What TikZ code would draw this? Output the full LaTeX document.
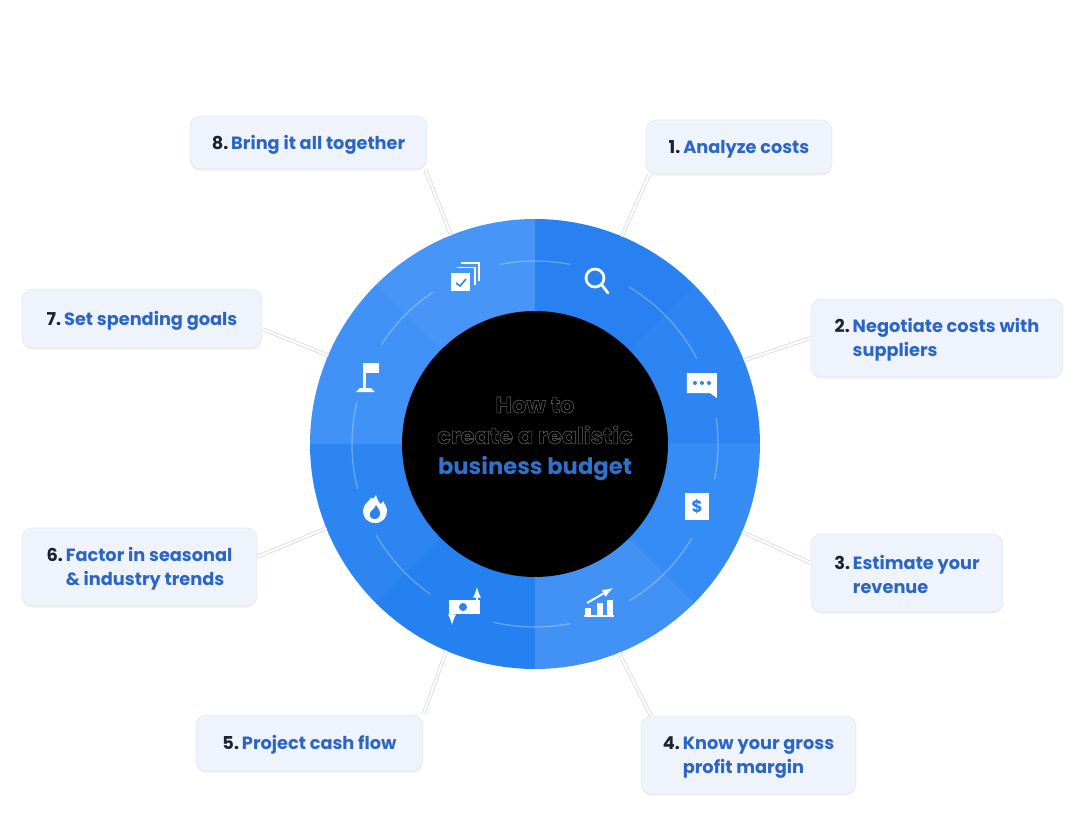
\documentclass[tikz,border=0pt]{standalone}
\usepackage{fontspec}
\setmainfont{Poppins}
\usepackage{tikz}
\usetikzlibrary{shadows,arrows}

\definecolor{numink}{HTML}{1C2233}
\definecolor{stepink}{HTML}{2B66C4}
\definecolor{boxfill}{HTML}{EFF3FB}
\definecolor{boxedge}{HTML}{E6ECF5}
\definecolor{linkgray}{HTML}{D5DAE2}
\definecolor{iconblue}{HTML}{2F82EE}
\definecolor{hubblue}{HTML}{2F72CC}
\newcommand{\steptext}[2]{\rule{0pt}{11.8pt}\textcolor{numink}{#1.}\,\textcolor{stepink}{\begin{tabular}[t]{@{}l@{}}#2\end{tabular}}}
\newcommand{\hollowtext}[1]{\special{pdf:code 1 Tr .3 w .4 G}#1\special{pdf:code 0 Tr 0 G}}

\begin{document}
\begin{tikzpicture}[x=0.02cm,y=0.02cm,>=latex]
	\tikzstyle{stepbox}=[rectangle,rounded corners=6pt,fill=boxfill,draw=boxedge,line width=.5pt,align=left,inner sep=0pt,
		font=\fontsize{10.1}{13.65}\selectfont\bfseries,drop shadow={shadow xshift=0pt,shadow yshift=-.8pt,fill=black!25,opacity=.3}]
	\tikzstyle{link}=[draw=linkgray,line width=.45pt,double=white,double distance=1.2pt]
	\tikzstyle{guide}=[draw=white,opacity=.3,line width=.7pt,line cap=round]
	\tikzstyle{icon}=[fill=white,draw=none]
	\tikzstyle{iconline}=[draw=white,line width=1.6pt]
	\useasboundingbox (-535,-385) rectangle (545,444);
	%Wheel
	\foreach \from/\shade in {0/2C85F3,45/2980F1,90/4796F7,135/4092F6,180/2D85F2,225/2681F0,270/4292F5,315/368CF5}{
		\definecolor{wedge}{HTML}{\shade}
		\fill[wedge] (0,0) -- (\from:225) arc (\from:\from+45.3:225) -- cycle;
	}
	\node[circle,fill=black,inner sep=0pt,minimum size=5.32cm](hub) at (0,0){};
	\foreach \from/\to in {79/101,28/59,-11/8,-59/-31,-103/-79,-150/-125,167/194,124/147}{
		\draw[guide] (\from:183) arc (\from:\to:183);
	}
	\node[align=center,font=\fontsize{12.9}{17.6}\selectfont\bfseries,text=black](title) at (0,5){\hollowtext{How to}\\\hollowtext{create a realistic}\\\textcolor{hubblue}{business budget}};
	%Rim points
	\coordinate (rim1) at (67.3:225);
	\coordinate (rim2) at (21.8:225);
	\coordinate (rim3) at (-23:225);
	\coordinate (rim4) at (-68.1:225);
	\coordinate (rim5) at (-113.2:225);
	\coordinate (rim6) at (-158:225);
	\coordinate (rim7) at (156.8:225);
	\coordinate (rim8) at (111.9:225);
	%Right side
	\node[stepbox,minimum width=3.72cm,minimum height=1.08cm](box1) at (204,297){\steptext{1}{Analyze costs}};
	\node[stepbox,minimum width=5.04cm,minimum height=1.56cm](box2) at (402,106){\steptext{2}{Negotiate costs with\\suppliers}};
	\node[stepbox,minimum width=3.84cm,minimum height=1.56cm](box3) at (372,-129){\rule{0pt}{14pt}\steptext{3}{Estimate your\\revenue}};
	\node[stepbox,minimum width=4.30cm,minimum height=1.56cm](box4) at (213.5,-311){\steptext{4}{Know your gross\\profit margin}};
	%Left side
	\node[stepbox,minimum width=4.54cm,minimum height=1.12cm](box5) at (-225.5,-299){\steptext{5}{Project cash flow}};
	\node[stepbox,minimum width=4.70cm,minimum height=1.56cm](box6) at (-395.5,-123){\steptext{6}{Factor in seasonal\\\& industry trends}};
	\node[stepbox,minimum width=4.80cm,minimum height=1.18cm](box7) at (-393,125.5){\steptext{7}{Set spending goals}};
	\node[stepbox,minimum width=4.74cm,minimum height=1.06cm](box8) at (-226.5,301.5){\steptext{8}{Bring it all together}};
	%Links
	\draw[link] (rim1) -- (box1.197);
	\draw[link] (rim2) -- (box2.west);
	\draw[link] (rim3) -- (box3.174);
	\draw[link] (rim4) -- (box4.158);
	\draw[link] (rim5) -- (box5.14);
	\draw[link] (rim6) -- (box6.5);
	\draw[link] (rim7) -- (box7.-5);
	\draw[link] (rim8) -- (box8.-13);
	%Search
	\draw[iconline] (60,166) circle (9);
	\draw[iconline,line cap=round] (66.5,159.5) -- (73,151);
	%Chat
	\fill[icon] (152,71) -- (182,71) -- (182,46) -- (175,51) -- (152,51) -- cycle;
	\foreach \dotx in {160,167,174}{
		\fill[iconblue] (\dotx,61) circle (2);
	}
	%Dollar
	\fill[icon] (150,-49) rectangle (174,-76);
	\node[text=iconblue,font=\fontsize{9.5}{10}\selectfont\bfseries,inner sep=0pt](dollar) at (162,-62.5){\$};
	%Chart
	\fill[icon] (49,-173) rectangle (79,-170.5);
	\fill[icon] (50,-172) rectangle (56,-164);
	\fill[icon] (62,-172) rectangle (68,-159);
	\fill[icon] (72,-172) rectangle (78,-156);
	\draw[iconline,line width=1.1pt,->] (52,-159) -- (78,-144);
	%Money
	\fill[icon] (-86,-156) rectangle (-55,-170);
	\fill[iconblue] (-72,-163) circle (4);
	\draw[iconline,line width=1.1pt,->] (-58,-157) -- (-58,-143);
	\draw[iconline,line width=1.1pt,->] (-83,-169) -- (-83,-181);
	%Flame
	\fill[icon] (-160,-79) .. controls (-168,-79) and (-172,-73) .. (-172,-67)
		.. controls (-172,-61) and (-167,-58) .. (-164,-54)
		.. controls (-162,-56) and (-161,-54) .. (-159,-51)
		.. controls (-158,-55) and (-156,-59) .. (-154,-60)
		.. controls (-153,-59) and (-152,-58) .. (-152,-57)
		.. controls (-150,-61) and (-148,-63) .. (-148,-67)
		.. controls (-148,-73) and (-152,-79) .. (-160,-79) -- cycle;
	\fill[iconblue] (-160,-75) .. controls (-164,-75) and (-166,-72) .. (-165,-69)
		.. controls (-164,-66) and (-160,-65) .. (-159,-61)
		.. controls (-157,-64) and (-154,-68) .. (-155,-71)
		.. controls (-156,-74) and (-158,-75) .. (-160,-75) -- cycle;
	%Flag
	\fill[icon] (-172,81) rectangle (-156,71);
	\fill[icon] (-171.5,81) rectangle (-168.5,56);
	\fill[icon] (-179,52) -- (-160,52) -- (-164,56) -- (-175,56) -- cycle;
	%Stack
	\fill[icon] (-84,171) rectangle (-65,153);
	\draw[iconline,line width=1.1pt] (-74,181) -- (-56,181) -- (-56,163);
	\draw[iconline,line width=1.1pt] (-78,176.5) -- (-60,176.5) -- (-60,159);
	\draw[iconblue,line width=.9pt] (-79,161) -- (-75,158) -- (-69,165);
\end{tikzpicture}
\end{document}
